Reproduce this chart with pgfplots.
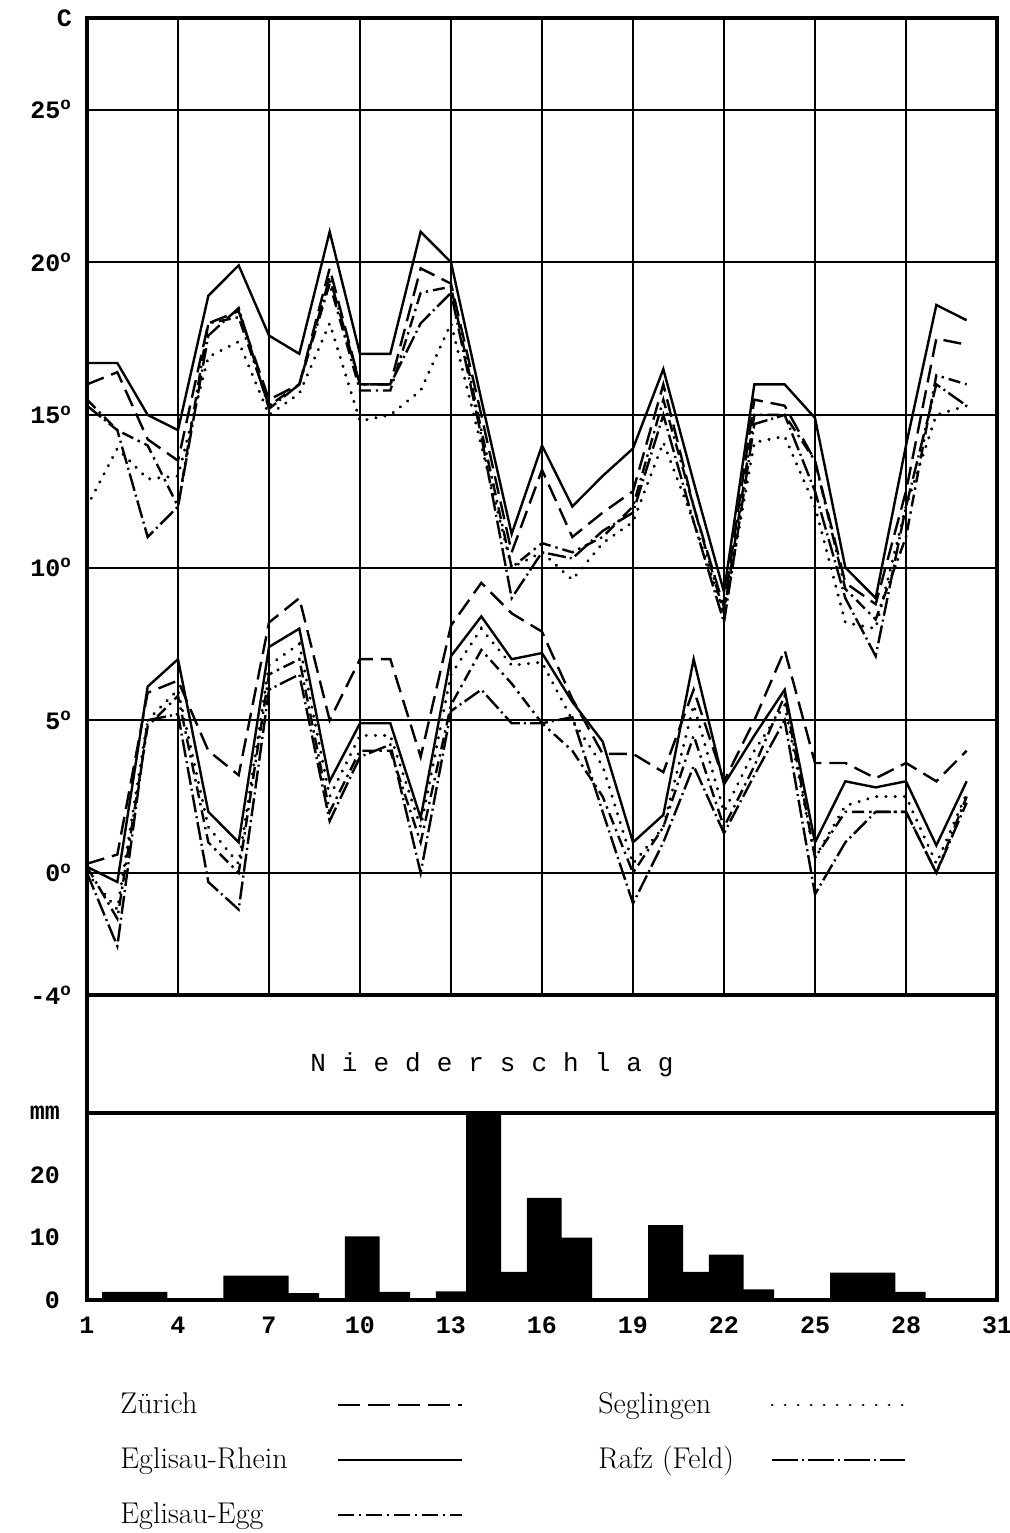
\documentclass[border=0pt]{standalone}
\usepackage{fontspec}
\setmonofont{Liberation Mono}
\usepackage{pgfplots}
\usepackage{pgfplotstable}
\pgfplotsset{compat=1.18}

\tikzset{
 zurich/.style={black, line width=1.2pt, dash pattern=on 9pt off 4pt},
 rhein/.style={black, line width=1.2pt},
 egg/.style={black, line width=1.2pt, dash pattern=on 6pt off 2.5pt on 1.2pt off 2.5pt},
 segl/.style={black, line width=1.6pt, line cap=round, dash pattern=on 0.1pt off 4.5pt},
 rafz/.style={black, line width=1.2pt, dash pattern=on 9pt off 2pt on 1pt off 2pt},
}

\pgfplotstableread{
d  zmax rmax emax smax fmax zmin rmin emin smin fmin
1  16.0 16.7 15.5 12.0 15.3 0.3 0.2 0.2 0.0 0.0
2  16.4 16.7 14.5 13.9 14.5 0.6 -0.3 -1.5 -1.2 -2.4
3  14.2 15.0 14.0 12.9 11.0 5.9 6.1 4.8 5.0 5.0
4  13.5 14.5 12.0 13.0 12.0 6.3 7.0 5.8 6.0 5.2
5  18.0 18.9 18.0 16.9 17.6 4.0 2.0 1.0 1.5 -0.3
6  18.4 19.9 18.2 17.4 18.5 3.2 1.0 0.0 0.3 -1.2
7  15.5 17.6 15.3 15.0 15.2 8.2 7.4 6.5 6.8 6.0
8  16.0 17.0 16.0 15.7 16.0 9.0 8.0 7.0 7.5 6.5
9  19.8 21.0 19.3 18.0 19.5 5.0 3.0 2.0 2.5 1.7
10 16.0 17.0 15.8 14.8 16.0 7.0 4.9 4.0 4.5 3.8
11 16.0 17.0 15.8 15.0 16.0 7.0 4.9 4.0 4.5 4.2
12 19.8 21.0 19.0 15.8 18.0 3.8 1.8 1.0 1.5 0.0
13 19.3 20.0 19.2 18.0 19.0 8.1 7.1 5.5 6.5 5.3
14 15.0 15.5 14.5 14.0 14.3 9.5 8.4 7.3 8.0 6.0
15 10.5 11.1 10.0 10.0 9.0 8.5 7.0 6.2 6.8 4.9
16 13.2 14.0 10.8 10.5 10.5 7.9 7.2 4.9 6.9 4.9
17 11.0 12.0 10.5 9.6 10.3 5.7 5.6 4.0 5.0 5.1
18 11.8 13.0 11.0 10.8 11.2 3.9 4.3 2.5 3.5 2.0
19 12.5 13.9 12.0 11.5 11.8 3.9 1.0 0.0 0.3 -1.0
20 16.0 16.5 15.5 14.1 15.0 3.3 1.9 1.5 1.5 1.0
21 12.0 12.8 12.0 11.5 11.5 6.0 7.0 4.5 5.5 3.5
22 8.7 9.2 8.5 8.5 8.2 3.0 2.9 1.5 2.0 1.3
23 15.5 16.0 15.0 14.1 14.7 5.0 4.5 3.5 4.0 3.2
24 15.3 16.0 15.0 14.3 15.0 7.3 6.0 5.8 5.5 5.0
25 13.5 14.9 13.5 12.0 12.5 3.6 1.0 0.5 0.5 -0.7
26 9.5 10.0 9.3 8.2 9.0 3.6 3.0 2.0 2.2 1.0
27 8.8 9.0 8.3 8.0 7.1 3.1 2.8 2.0 2.5 2.0
28 12.5 14.0 11.0 12.0 12.0 3.6 3.0 2.0 2.5 2.0
29 17.5 18.6 16.3 15.0 16.0 3.0 0.9 0.0 0.3 0.0
30 17.3 18.1 16.0 15.3 15.3 4.0 3.0 2.5 2.6 2.3
}\temps

\pgfplotstableread{
d  mm
2  1.3
3  1.3
6  3.9
7  3.9
8  1.1
10 10.2
11 1.3
13 1.4
14 32
15 4.5
16 16.4
17 10.0
20 12.0
21 4.5
22 7.3
23 1.7
26 4.4
27 4.4
28 1.3
}\precip

\begin{document}
\begin{tikzpicture}[x=1pt,y=1pt]
\useasboundingbox (0,0) rectangle (505,-766.5);

\begin{axis}[
  at={(43.5pt,-9pt)}, anchor=north west,
  scale only axis, width=455pt, height=488.5pt,
  xmin=1, xmax=31, ymin=-4, ymax=28,
  xtick={1,4,...,31}, xticklabels={},
  ytick={-4,0,5,10,15,20,25,28},
  yticklabels={-4\textsuperscript{o},0\textsuperscript{o},5\textsuperscript{o},10\textsuperscript{o},15\textsuperscript{o},20\textsuperscript{o},25\textsuperscript{o},C},
  grid=major, major grid style={black, line width=0.95pt},
  major tick length=0pt,
  axis line style={line width=1.7pt},
  tick label style={font=\ttfamily\bfseries\fontsize{12.5}{14}\selectfont},
  yticklabel style={anchor=east, xshift=-4pt},
]
\addplot[zurich] table[x=d,y=zmax]{\temps};
\addplot[rhein]  table[x=d,y=rmax]{\temps};
\addplot[egg]    table[x=d,y=emax]{\temps};
\addplot[segl]   table[x=d,y=smax]{\temps};
\addplot[rafz]   table[x=d,y=fmax]{\temps};
\addplot[zurich] table[x=d,y=zmin]{\temps};
\addplot[rhein]  table[x=d,y=rmin]{\temps};
\addplot[egg]    table[x=d,y=emin]{\temps};
\addplot[segl]   table[x=d,y=smin]{\temps};
\addplot[rafz]   table[x=d,y=fmin]{\temps};
\end{axis}

% Niederschlag band
\draw[line width=1.7pt] (43.5,-497.5) -- (43.5,-556.5);
\draw[line width=1.7pt] (498.5,-497.5) -- (498.5,-556.5);
\node[font=\ttfamily\fontsize{13}{15}\selectfont] at (246,-532.5)
  {N\hspace{8pt}i\hspace{8pt}e\hspace{8pt}d\hspace{8pt}e\hspace{8pt}r\hspace{8pt}s\hspace{8pt}c\hspace{8pt}h\hspace{8pt}l\hspace{8pt}a\hspace{8pt}g};

\begin{axis}[
  at={(43.5pt,-556.5pt)}, anchor=north west,
  scale only axis, width=455pt, height=93.5pt,
  xmin=1, xmax=31, ymin=0, ymax=30,
  xtick={1,4,...,31},
  xticklabels={1,4,7,10,13,16,19,22,25,28,31},
  ytick={0,10,20,30},
  yticklabels={0,10,20,mm},
  major tick length=0pt,
  axis line style={line width=1.7pt},
  tick label style={font=\ttfamily\bfseries\fontsize{12.5}{14}\selectfont},
  yticklabel style={anchor=east, xshift=-10pt},
  xticklabel style={yshift=-5pt},
]
\addplot[ybar, bar width=1.15, bar shift=0.075, fill=black, draw=none] table[x=d,y=mm]{\precip};
\end{axis}

% legend
\begin{scope}[font=\fontsize{15}{18}\selectfont]
\node[anchor=base west, inner sep=0] at (60,-706.5) {Zürich};
\node[anchor=base west, inner sep=0] at (60,-734) {Eglisau-Rhein};
\node[anchor=base west, inner sep=0] at (60,-761.5) {Eglisau-Egg};
\node[anchor=base west, inner sep=0] at (299,-706.5) {Seglingen};
\node[anchor=base west, inner sep=0] at (299,-734) {Rafz (Feld)};
\end{scope}
\draw[black, line width=0.9pt, dash pattern=on 11pt off 4pt] (169,-702.5) -- (231,-702.5);
\draw[black, line width=0.9pt] (169,-730) -- (231,-730);
\draw[black, line width=0.9pt, dash pattern=on 8pt off 2.5pt on 1pt off 2.5pt] (169,-757.5) -- (231,-757.5);
\draw[black, line width=1.4pt, line cap=round, dash pattern=on 0.1pt off 6.4pt] (386,-702.5) -- (452.5,-702.5);
\draw[black, line width=0.9pt, dash pattern=on 13pt off 2pt on 1pt off 2pt] (386,-730) -- (452.5,-730);
\end{tikzpicture}
\end{document}
